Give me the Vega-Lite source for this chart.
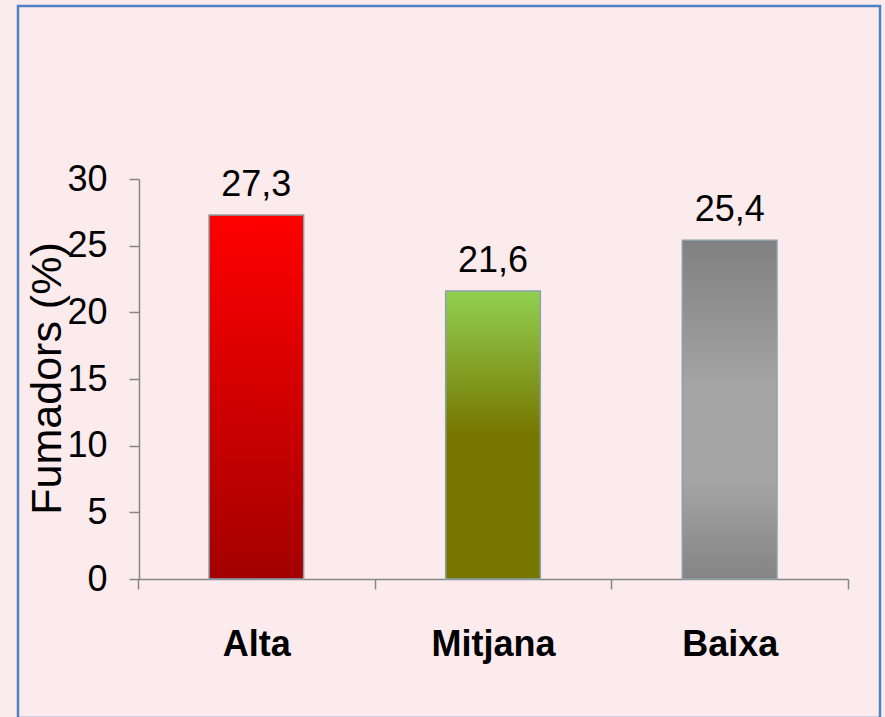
{
  "$schema": "https://vega.github.io/schema/vega-lite/v6.json",
  "width": 862,
  "height": 712,
  "autosize": "none",
  "padding": {"left": 18, "top": 6, "right": 5, "bottom": 0},
  "background": "#fcebed",
  "config": {
    "view": {"stroke": "#4f81c7", "strokeWidth": 2.5},
    "font": "Liberation Sans"
  },
  "data": {
    "values": [
      {"nivell": "Alta", "fumadors": 27.3, "etiqueta": "27,3"},
      {"nivell": "Mitjana", "fumadors": 21.6, "etiqueta": "21,6"},
      {"nivell": "Baixa", "fumadors": 25.4, "etiqueta": "25,4"}
    ]
  },
  "encoding": {
    "x": {
      "field": "nivell",
      "type": "nominal",
      "sort": ["Alta", "Mitjana", "Baixa"],
      "scale": {"range": [120, 830], "paddingInner": 0, "paddingOuter": 0},
      "axis": {
        "title": null,
        "labelAngle": 0,
        "offset": -139,
        "tickBand": "extent",
        "domainColor": "#868686",
        "tickColor": "#868686",
        "domainWidth": 1.5,
        "tickWidth": 1.5,
        "tickSize": 10,
        "labelFont": "Liberation Sans",
        "labelFontWeight": "bold",
        "labelFontSize": 36,
        "labelColor": "#000000",
        "labelBaseline": "alphabetic",
        "labelPadding": 66
      }
    },
    "y": {
      "field": "fumadors",
      "type": "quantitative",
      "scale": {"domain": [0, 30], "range": [573, 173], "nice": false, "zero": true},
      "axis": {
        "title": "Fumadors (%)",
        "values": [0, 5, 10, 15, 20, 25, 30],
        "offset": -121,
        "grid": false,
        "domainColor": "#868686",
        "tickColor": "#868686",
        "domainWidth": 1.5,
        "tickWidth": 1.5,
        "tickSize": 10,
        "labelFont": "Liberation Sans",
        "labelFontSize": 36,
        "labelColor": "#000000",
        "labelPadding": 22,
        "titleFont": "Liberation Sans",
        "titleFontSize": 43,
        "titleFontWeight": "normal",
        "titleColor": "#000000",
        "titleX": -79,
        "titleY": 372,
        "titleAngle": -90,
        "titleBaseline": "alphabetic",
        "titleAlign": "center"
      }
    }
  },
  "layer": [
    {
      "transform": [{"filter": "datum.nivell === 'Alta'"}],
      "mark": {
        "type": "bar",
        "width": {"band": 0.4},
        "stroke": "#8aa1aa",
        "strokeWidth": 1.5,
        "color": {
          "gradient": "linear", "x1": 0, "y1": 0, "x2": 0, "y2": 1,
          "stops": [{"offset": 0, "color": "#ff0000"}, {"offset": 1, "color": "#a30000"}]
        }
      }
    },
    {
      "transform": [{"filter": "datum.nivell === 'Mitjana'"}],
      "mark": {
        "type": "bar",
        "width": {"band": 0.4},
        "stroke": "#8aa1aa",
        "strokeWidth": 1.5,
        "color": {
          "gradient": "linear", "x1": 0, "y1": 0, "x2": 0, "y2": 1,
          "stops": [{"offset": 0, "color": "#92d050"}, {"offset": 0.5, "color": "#767600"}, {"offset": 1, "color": "#767600"}]
        }
      }
    },
    {
      "transform": [{"filter": "datum.nivell === 'Baixa'"}],
      "mark": {
        "type": "bar",
        "width": {"band": 0.4},
        "stroke": "#8aa1aa",
        "strokeWidth": 1.5,
        "color": {
          "gradient": "linear", "x1": 0, "y1": 0, "x2": 0, "y2": 1,
          "stops": [{"offset": 0, "color": "#808080"}, {"offset": 0.45, "color": "#a6a6a6"}, {"offset": 0.7, "color": "#a6a6a6"}, {"offset": 1, "color": "#848484"}]
        }
      }
    },
    {
      "mark": {"type": "text", "baseline": "alphabetic", "dy": -19, "fontSize": 36, "font": "Liberation Sans", "color": "#000000"},
      "encoding": {"text": {"field": "etiqueta"}}
    }
  ]
}
